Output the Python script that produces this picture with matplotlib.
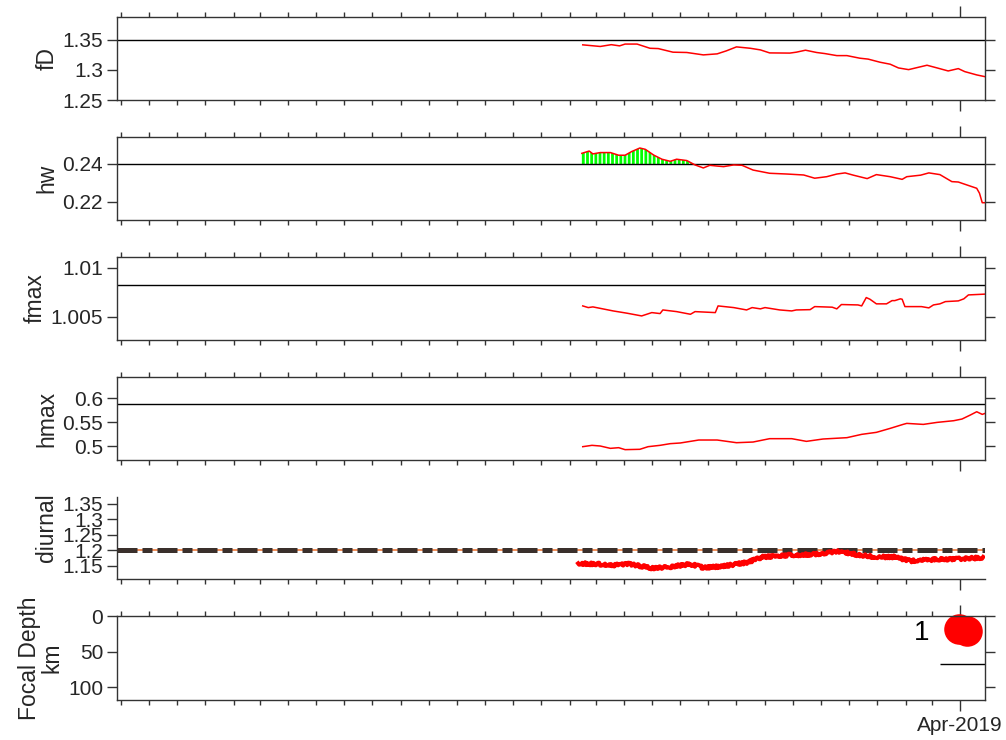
import numpy as np
import matplotlib
matplotlib.use("Agg")
import matplotlib.pyplot as plt
import matplotlib.dates as mdates
from matplotlib.ticker import FixedLocator

plt.rcParams['font.family'] = ['Liberation Sans', 'DejaVu Sans']
plt.rcParams['lines.scale_dashes'] = False
plt.rcParams['hatch.linewidth'] = 1.0

BASE = np.datetime64('2019-04-01')

# ---- data (day offsets relative to 2019-04-01) ----
fd_day = [-410, -391, -379, -370, -364, -351, -337, -328, -312, -297, -279, -264, -254, -243,
          -228, -217, -207, -185, -178, -168, -156, -147, -134, -123, -109, -100, -87, -76,
          -67, -56, -47, -36, -25, -13, -2, 5, 18, 27]
fd_val = [1.3417, 1.339, 1.342, 1.340, 1.343, 1.343, 1.336, 1.3355, 1.3295, 1.329, 1.325,
          1.3267, 1.3317, 1.3383, 1.336, 1.3333, 1.3283, 1.328, 1.3295, 1.3328, 1.329, 1.3272,
          1.3238, 1.3238, 1.3195, 1.318, 1.3128, 1.3095, 1.3033, 1.3005, 1.3038, 1.3078,
          1.3033, 1.2983, 1.3022, 1.2972, 1.2917, 1.2888]
fd_ref = 1.35

hw_day = [-411, -403, -399, -391, -380, -371, -364, -357, -348, -342, -333, -324, -315, -308,
          -297, -288, -279, -272, -264, -257, -246, -237, -225, -207, -188, -170, -158, -145,
          -134, -125, -116, -101, -91, -76, -63, -58, -43, -34, -22, -9, -2, 4, 18, 21, 24, 27]
hw_val = [0.2456, 0.2468, 0.2453, 0.2460, 0.2460, 0.2446, 0.2446, 0.2465, 0.2484, 0.2477,
          0.2447, 0.2425, 0.2414, 0.2425, 0.2418, 0.2395, 0.2379, 0.2393, 0.2389, 0.2386,
          0.2395, 0.2393, 0.2368, 0.2351, 0.2347, 0.2342, 0.2325, 0.2333, 0.2347, 0.2353,
          0.2341, 0.2323, 0.2344, 0.2333, 0.2319, 0.2333, 0.2341, 0.2353, 0.2344, 0.2307,
          0.2305, 0.2295, 0.2272, 0.2246, 0.2196, 0.2196]
hw_ref = 0.24

fmax_day = [-410, -404, -399, -377, -362, -346, -335, -326, -323, -308, -293, -288, -266, -263,
            -246, -232, -226, -217, -212, -196, -183, -178, -163, -158, -139, -134, -129, -111,
            -107, -102, -98, -91, -80, -74, -71, -65, -63, -60, -42, -34, -29, -22, -16, -2,
            4, 9, 27]
fmax_val = [1.00612, 1.00595, 1.00602, 1.00561, 1.00538, 1.0051, 1.00544, 1.00534, 1.00571,
            1.00554, 1.00527, 1.00554, 1.00544, 1.00612, 1.00595, 1.00571, 1.00595, 1.00582,
            1.00595, 1.00571, 1.00561, 1.00571, 1.00574, 1.00605, 1.00599, 1.00582, 1.00626,
            1.00622, 1.00612, 1.00697, 1.0068, 1.00633, 1.00633, 1.00666, 1.00666, 1.00684,
            1.0068, 1.00605, 1.00605, 1.00592, 1.00622, 1.00633, 1.00656, 1.00663, 1.00684,
            1.00724, 1.00732]
fmax_ref = 1.00827

hmax_day = [-410, -400, -391, -380, -371, -364, -348, -339, -326, -315, -304, -284, -264, -243,
            -225, -207, -183, -167, -149, -123, -107, -91, -76, -62, -58, -40, -25, -7, 2, 11,
            18, 24, 27]
hmax_val = [0.4986, 0.5014, 0.5, 0.4951, 0.4965, 0.4924, 0.4931, 0.4986, 0.5014, 0.5049,
            0.5063, 0.5125, 0.5125, 0.5069, 0.5083, 0.5153, 0.5153, 0.5097, 0.5146, 0.5174,
            0.5243, 0.5285, 0.5368, 0.5451, 0.5472, 0.5451, 0.5493, 0.5528, 0.5563, 0.5646,
            0.5715, 0.566, 0.568]
hmax_ref = 0.5869

di_day = [-415, -388, -377, -359, -333, -315, -293, -279, -257, -232, -214, -192, -170, -149,
          -130, -112, -91, -72, -54, -25, 4, 25]
di_val = [1.157, 1.154, 1.151, 1.155, 1.141, 1.146, 1.155, 1.143, 1.148, 1.160, 1.178, 1.183,
          1.185, 1.189, 1.196, 1.185, 1.178, 1.178, 1.165, 1.170, 1.172, 1.176]
di_ref = 1.2

eq_day = [-1, 7]
eq_depth = [18, 21]
eq_count_label = "1"
eq_label_day = -33
eq_label_depth = 24
depth_line_day = -22
depth_line_val = 68

x_start = np.datetime64('2016-09-27')
x_end = np.datetime64('2019-04-28')
major_tick = np.datetime64('2019-04-01')


def d(offsets):
    return BASE + np.array(offsets, dtype='timedelta64[D]')


W, H = 1006, 740
fig = plt.figure(figsize=(W / 100, H / 100), dpi=100)

left_px, right_px = 117, 985
panels_px = [(17, 100), (137, 220), (257, 340), (377, 460), (497, 579), (616, 700)]
axes = []
for top, bot in panels_px:
    ax = fig.add_axes([left_px / W, 1 - bot / H, (right_px - left_px) / W, (bot - top) / H])
    axes.append(ax)

AX_COL = '#333333'
TICK_FS = 15
LAB_FS = 16.5
RED = '#ff0000'


def style(ax, box=True, show_label=False):
    ax.set_xlim(x_start, x_end)
    ax.xaxis.set_major_locator(FixedLocator([mdates.date2num(major_tick)]))
    ax.xaxis.set_minor_locator(mdates.MonthLocator())
    ax.xaxis.set_major_formatter(mdates.DateFormatter('%b-%Y'))
    for s in ax.spines.values():
        s.set_color(AX_COL)
        s.set_linewidth(1.0)
    ax.tick_params(axis='both', which='both', direction='out', colors=AX_COL,
                   labelcolor='#262626', labelsize=TICK_FS, width=1.0)
    ax.tick_params(axis='x', which='major', length=8)
    ax.tick_params(axis='x', which='minor', length=3.5)
    ax.tick_params(axis='y', which='major', length=7, pad=3)
    if box:
        ax.tick_params(axis='x', which='both', top=True, bottom=True)
        ax.tick_params(axis='y', which='both', left=True, right=True)
    else:
        ax.spines['top'].set_visible(False)
        ax.spines['right'].set_visible(False)
        ax.tick_params(axis='x', which='both', top=False, bottom=True)
        ax.tick_params(axis='y', which='both', left=True, right=False)
    ax.tick_params(axis='x', which='both', labelbottom=show_label, labeltop=False)


def ylab(ax, text, yc=0.5):
    ax.set_ylabel(text, fontsize=LAB_FS, color='#262626', linespacing=1.0, labelpad=3)
    ax.yaxis.label.set_y(yc)


# Panel 1: fD
ax = axes[0]
ax.axhline(fd_ref, color='black', lw=1.0)
ax.plot(d(fd_day), fd_val, color=RED, lw=1.1)
ax.set_ylim(1.25, 1.388)
ax.set_yticks([1.25, 1.3, 1.35])
ax.set_yticklabels(['1.25', '1.3', '1.35'])
style(ax)
ylab(ax, 'fD')

# Panel 2: hw
ax = axes[1]
hx = d(hw_day)
hv = np.array(hw_val)
ax.fill_between(hx, hw_ref, hv, where=hv > hw_ref, interpolate=True,
                facecolor='#00ff00', edgecolor='white', hatch='||||', linewidth=0)
ax.axhline(hw_ref, color='black', lw=1.0)
ax.plot(hx, hv, color=RED, lw=1.1)
ax.set_ylim(0.2105, 0.2542)
ax.set_yticks([0.22, 0.24])
ax.set_yticklabels(['0.22', '0.24'])
style(ax)
ylab(ax, 'hw')

# Panel 3: fmax
ax = axes[2]
ax.axhline(fmax_ref, color='black', lw=1.0)
ax.plot(d(fmax_day), fmax_val, color=RED, lw=1.1)
ax.set_ylim(1.00265, 1.0111)
ax.set_yticks([1.005, 1.01])
ax.set_yticklabels(['1.005', '1.01'])
style(ax)
ylab(ax, 'fmax')

# Panel 4: hmax
ax = axes[3]
ax.axhline(hmax_ref, color='black', lw=1.0)
ax.plot(d(hmax_day), hmax_val, color=RED, lw=1.1)
ax.set_ylim(0.4708, 0.644)
ax.set_yticks([0.5, 0.55, 0.6])
ax.set_yticklabels(['0.5', '0.55', '0.6'])
style(ax)
ylab(ax, 'hmax')

# Panel 5: diurnal
ax = axes[4]
ax.axhline(di_ref, color='#f07a3a', lw=1.2, zorder=2)
ax.axhline(di_ref, color='#3a302c', lw=3.6, dashes=(14.4, 3.6, 7.2, 3.6), zorder=3)
ln, = ax.plot(d(di_day), di_val, color=RED, lw=3.0, zorder=4)
ln.set_sketch_params(scale=1.4, length=2.0, randomness=3.0)
ax.set_ylim(1.1065, 1.372)
ax.set_yticks([1.15, 1.2, 1.25, 1.3, 1.35])
ax.set_yticklabels(['1.15', '1.2', '1.25', '1.3', '1.35'])
style(ax, box=False)
ylab(ax, 'diurnal', 0.63)

# Panel 6: Focal depth
ax = axes[5]
ax.plot(d(eq_day), eq_depth, 'o', color=RED, ms=22, mec='none', clip_on=False)
ax.text(d([eq_label_day])[0], eq_label_depth, eq_count_label, fontsize=20,
        ha='right', va='center', color='black')
ax.hlines(depth_line_val, d([depth_line_day])[0], x_end, color='black', lw=1.0)
ax.set_ylim(118, 0)
ax.set_yticks([0, 50, 100])
style(ax, show_label=True)
ax.set_xlim(x_start, x_end)
ylab(ax, 'Focal Depth\nkm')

fig.savefig('out.png', dpi=100)
